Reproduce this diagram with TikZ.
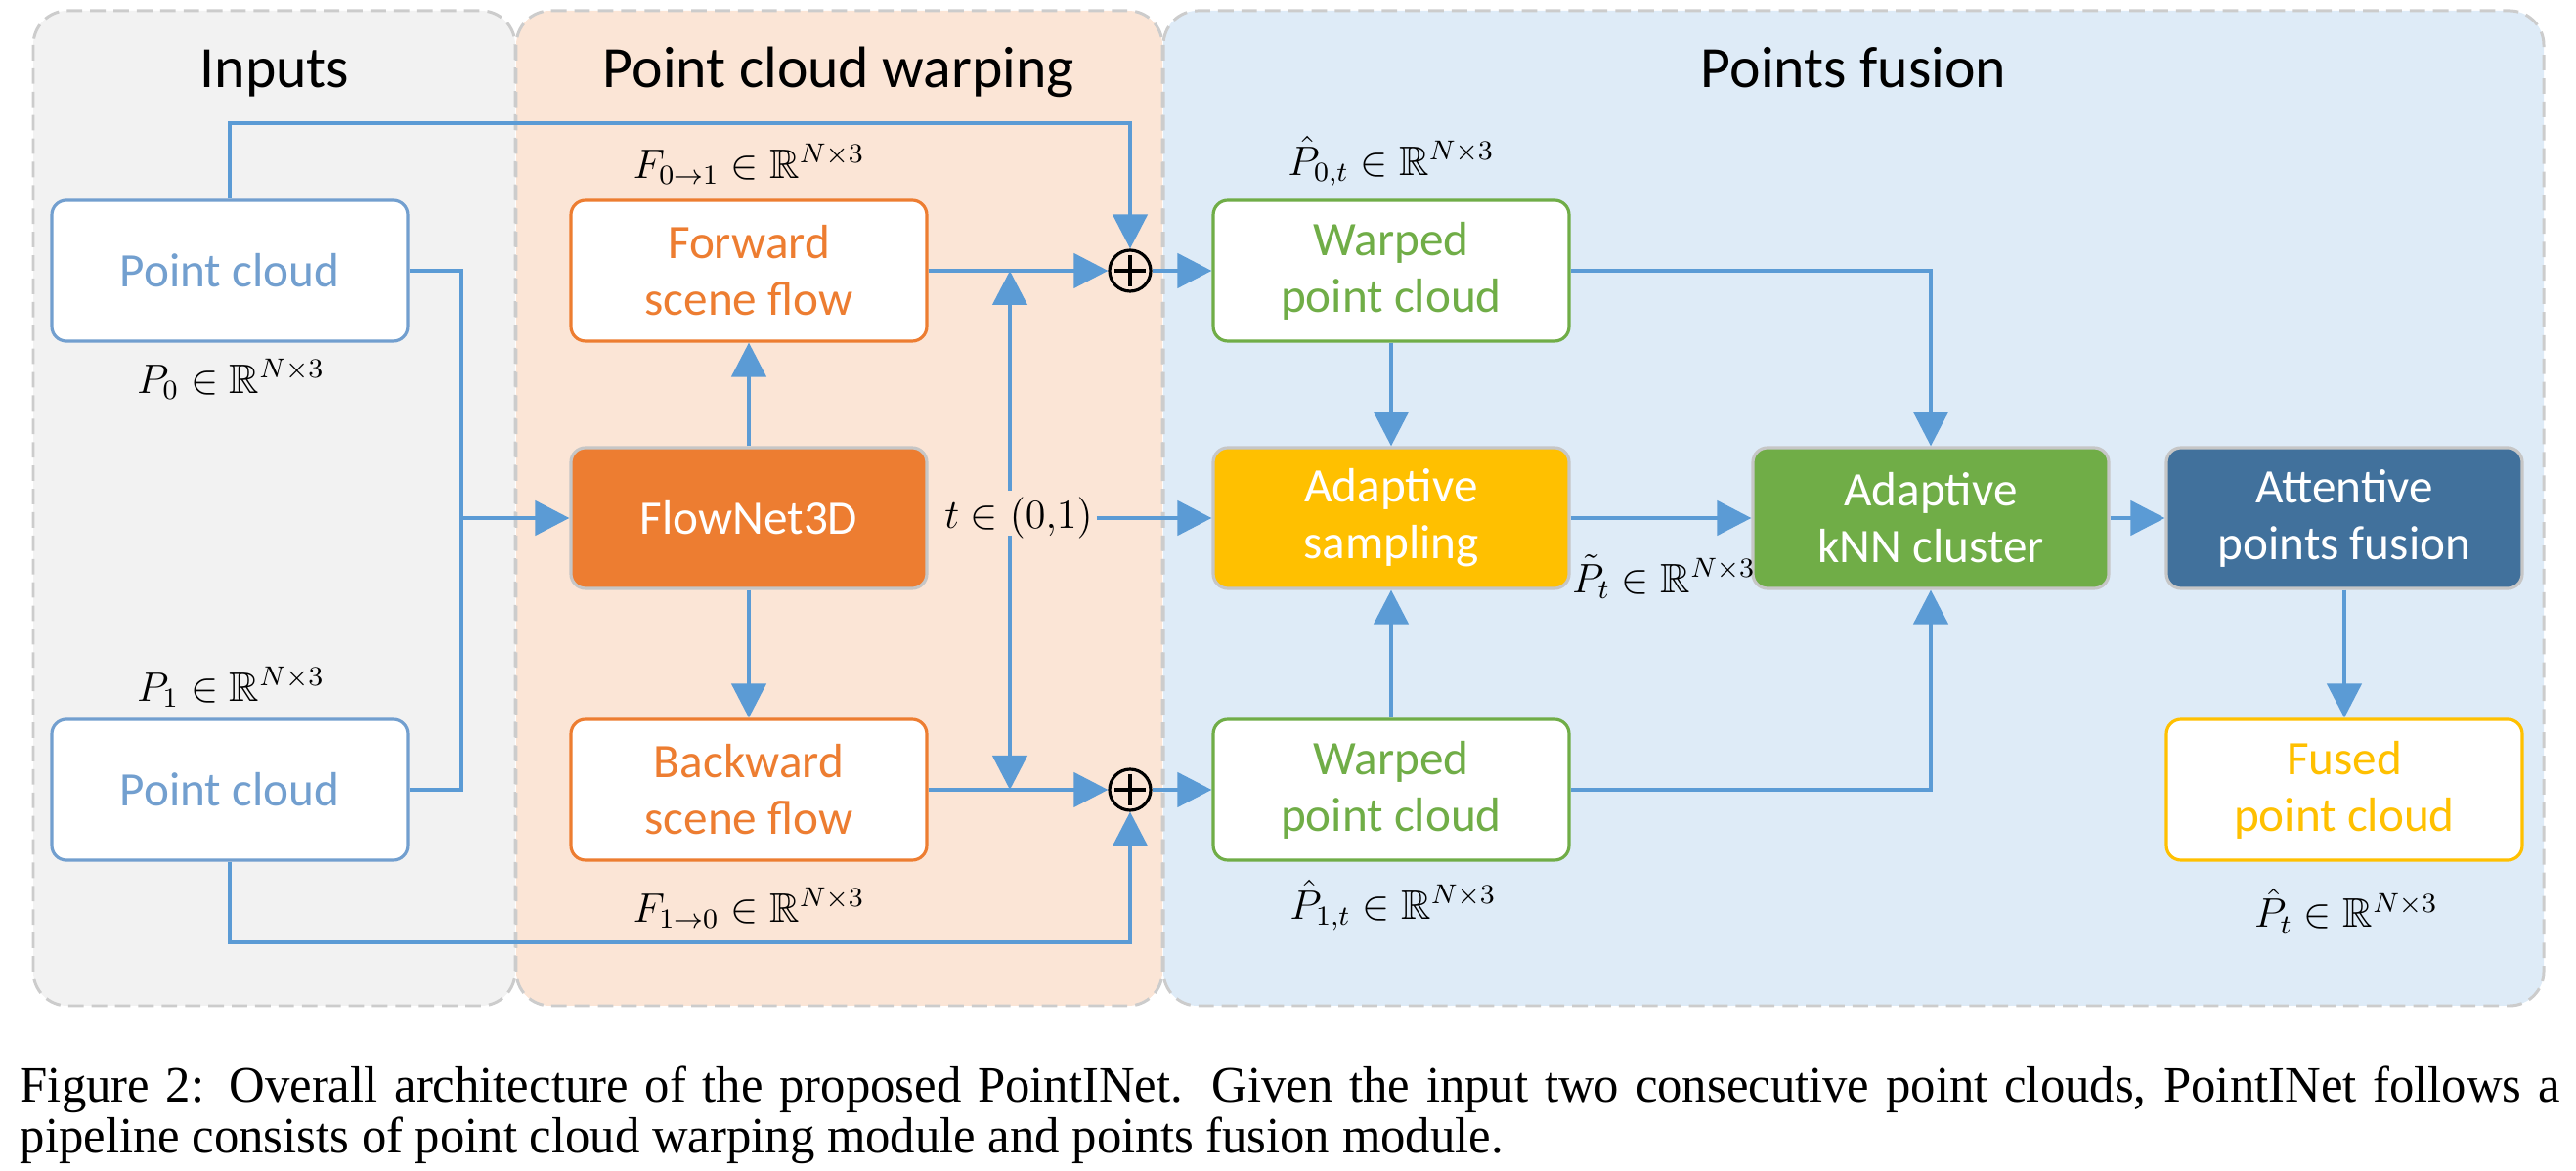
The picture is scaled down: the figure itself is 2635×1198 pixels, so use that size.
\documentclass[tikz,border=0pt]{standalone}
\usepackage{amsmath}
\usepackage{amssymb}
\usepackage[no-math]{fontspec}
\setmainfont{Carlito}
\newfontfamily\capfont[FakeStretch=0.975]{Liberation Serif}
\usepackage{tikz}
\usetikzlibrary{arrows.meta}
\definecolor{flowblue}{HTML}{5B9BD5}
\definecolor{pcblue}{HTML}{729FCF}
\definecolor{warporange}{HTML}{ED7D31}
\definecolor{fusegreen}{HTML}{70AD47}
\definecolor{fusegold}{HTML}{FFC000}
\definecolor{fusenavy}{HTML}{41719C}
\definecolor{inputbg}{HTML}{F2F2F2}
\definecolor{warpbg}{HTML}{FBE5D6}
\definecolor{fusebg}{HTML}{DEEBF7}

\begin{document}
\begin{tikzpicture}[x=0.1mm,y=-0.1mm,
  panel/.style={draw=gray!40,line width=0.85pt,dash pattern=on 4.5pt off 2.3pt,rounded corners=3.5mm},
  outbox/.style={draw=#1,text=#1,fill=white,line width=0.9pt,rounded corners=1.5mm,minimum width=36.4mm,minimum height=14.4mm,align=center,font=\fontsize{14}{16.5}\selectfont},
  fillbox/.style={fill=#1,draw=gray!45,line width=0.9pt,text=white,rounded corners=1.5mm,minimum width=36.4mm,minimum height=14.4mm,align=center,font=\fontsize{14}{16.5}\selectfont},
  title/.style={anchor=base,font=\fontsize{17}{20}\selectfont},
  lbl/.style={inner sep=1pt,font=\fontsize{12}{14}\selectfont},
  flow/.style={draw=flowblue,line width=1.3pt},
  arr/.style={flow,-{Triangle[length=3.5mm,width=3.5mm]}},
  oplus/.style={circle,draw,line width=0.9pt,minimum size=4.2mm,inner sep=0pt,
    path picture={\draw[line width=0.9pt] ([yshift=1.6mm]path picture bounding box.center) -- ([yshift=-1.6mm]path picture bounding box.center)
      ([xshift=-1.6mm]path picture bounding box.center) -- ([xshift=1.6mm]path picture bounding box.center);}}]
  \useasboundingbox (0,0) rectangle (2635,1198);
  \draw[panel,fill=inputbg] (34,11) rectangle (527,1029);
  \draw[panel,fill=warpbg] (528,11) rectangle (1189,1029);
  \draw[panel,fill=fusebg] (1190,11) rectangle (2602,1029);
  \node[title] (tinput) at (281,90) {Inputs};
  \node[title] (twarp) at (858,90) {Point cloud warping};
  \node[title] (tfuse) at (1896,90) {Points fusion};

  \node[outbox=pcblue] (pc0) at (235,277) {Point cloud};
  \node[outbox=pcblue] (pc1) at (235,808) {Point cloud};
  \node[outbox=warporange] (fwd) at (766,277) {Forward\\scene flow};
  \node[fillbox=warporange] (fnet) at (766,530) {FlowNet3D};
  \node[outbox=warporange] (bwd) at (766,808) {Backward\\scene flow};
  \node[oplus] (add0) at (1156,277) {};
  \node[oplus] (add1) at (1156,808) {};
  \node[outbox=fusegreen] (wp0) at (1423,277) {Warped\\point cloud};
  \node[fillbox=fusegold] (samp) at (1423,530) {Adaptive\\sampling};
  \node[outbox=fusegreen] (wp1) at (1423,808) {Warped\\point cloud};
  \node[fillbox=fusegreen] (knn) at (1975,530) {Adaptive\\kNN cluster};
  \node[fillbox=fusenavy] (attn) at (2398,530) {Attentive\\points fusion};
  \node[outbox=fusegold] (fused) at (2398,808) {Fused\\point cloud};

  \node[lbl] (lp0) at (236,388) {$P_0\in\mathbb{R}^{N{\times}3}$};
  \node[lbl] (lp1) at (236,703) {$P_1\in\mathbb{R}^{N{\times}3}$};
  \node[lbl] (lf01) at (766,168) {$F_{0\to 1}\in\mathbb{R}^{N{\times}3}$};
  \node[lbl] (lf10) at (766,929) {$F_{1\to 0}\in\mathbb{R}^{N{\times}3}$};
  \node[lbl,font=\fontsize{12.5}{15}\selectfont] (lt) at (1042,530) {$t\in(0{,}1)$};
  \node[lbl] (lp0t) at (1423,165) {$\hat{P}_{0,t}\in\mathbb{R}^{N{\times}3}$};
  \node[lbl] (lp1t) at (1425,926) {$\hat{P}_{1,t}\in\mathbb{R}^{N{\times}3}$};
  \node[lbl] (lpt) at (1702,590) {$\tilde{P}_t\in\mathbb{R}^{N{\times}3}$};
  \node[lbl] (lfused) at (2400,932) {$\hat{P}_t\in\mathbb{R}^{N{\times}3}$};

  \coordinate (join) at (472,530);
  \coordinate (tup) at (1033,502);
  \coordinate (tdown) at (1033,548);
  \draw[arr] (pc0.north) -- (235,126) -| (add0.north);
  \draw[arr] (pc1.south) -- (235,964) -| (add1.south);
  \draw[flow] (pc0.east) -| (join);
  \draw[flow] (pc1.east) -| (join);
  \draw[arr] (join) -- (fnet.west);
  \draw[arr] (fnet.north) -- (fwd.south);
  \draw[arr] (fnet.south) -- (bwd.north);
  \draw[arr] (fwd.east) -- (add0.west);
  \draw[arr] (bwd.east) -- (add1.west);
  \draw[arr] (tup) -- (fwd.east -| tup);
  \draw[arr] (tdown) -- (bwd.east -| tdown);
  \draw[arr] (lt.east) -- (samp.west);
  \draw[arr] (add0.east) -- (wp0.west);
  \draw[arr] (add1.east) -- (wp1.west);
  \draw[arr] (wp0.south) -- (samp.north);
  \draw[arr] (wp1.north) -- (samp.south);
  \draw[arr] (wp0.east) -| (knn.north);
  \draw[arr] (wp1.east) -| (knn.south);
  \draw[arr] (samp.east) -- (knn.west);
  \draw[arr] (knn.east) -- (attn.west);
  \draw[arr] (attn.south) -- (fused.north);

  \node[anchor=base west,inner sep=0pt,font=\capfont\fontsize{14.8}{17}\selectfont] (cap1) at (20,1128)
    {\makebox[259.8mm][s]{Figure 2: Overall architecture of the proposed PointINet. Given the input two consecutive point clouds, PointINet follows a}};
  \node[anchor=base west,inner sep=0pt,font=\capfont\fontsize{14.8}{17}\selectfont] (cap2) at (20,1180)
    {pipeline consists of point cloud warping module and points fusion module.};
\end{tikzpicture}
\end{document}
